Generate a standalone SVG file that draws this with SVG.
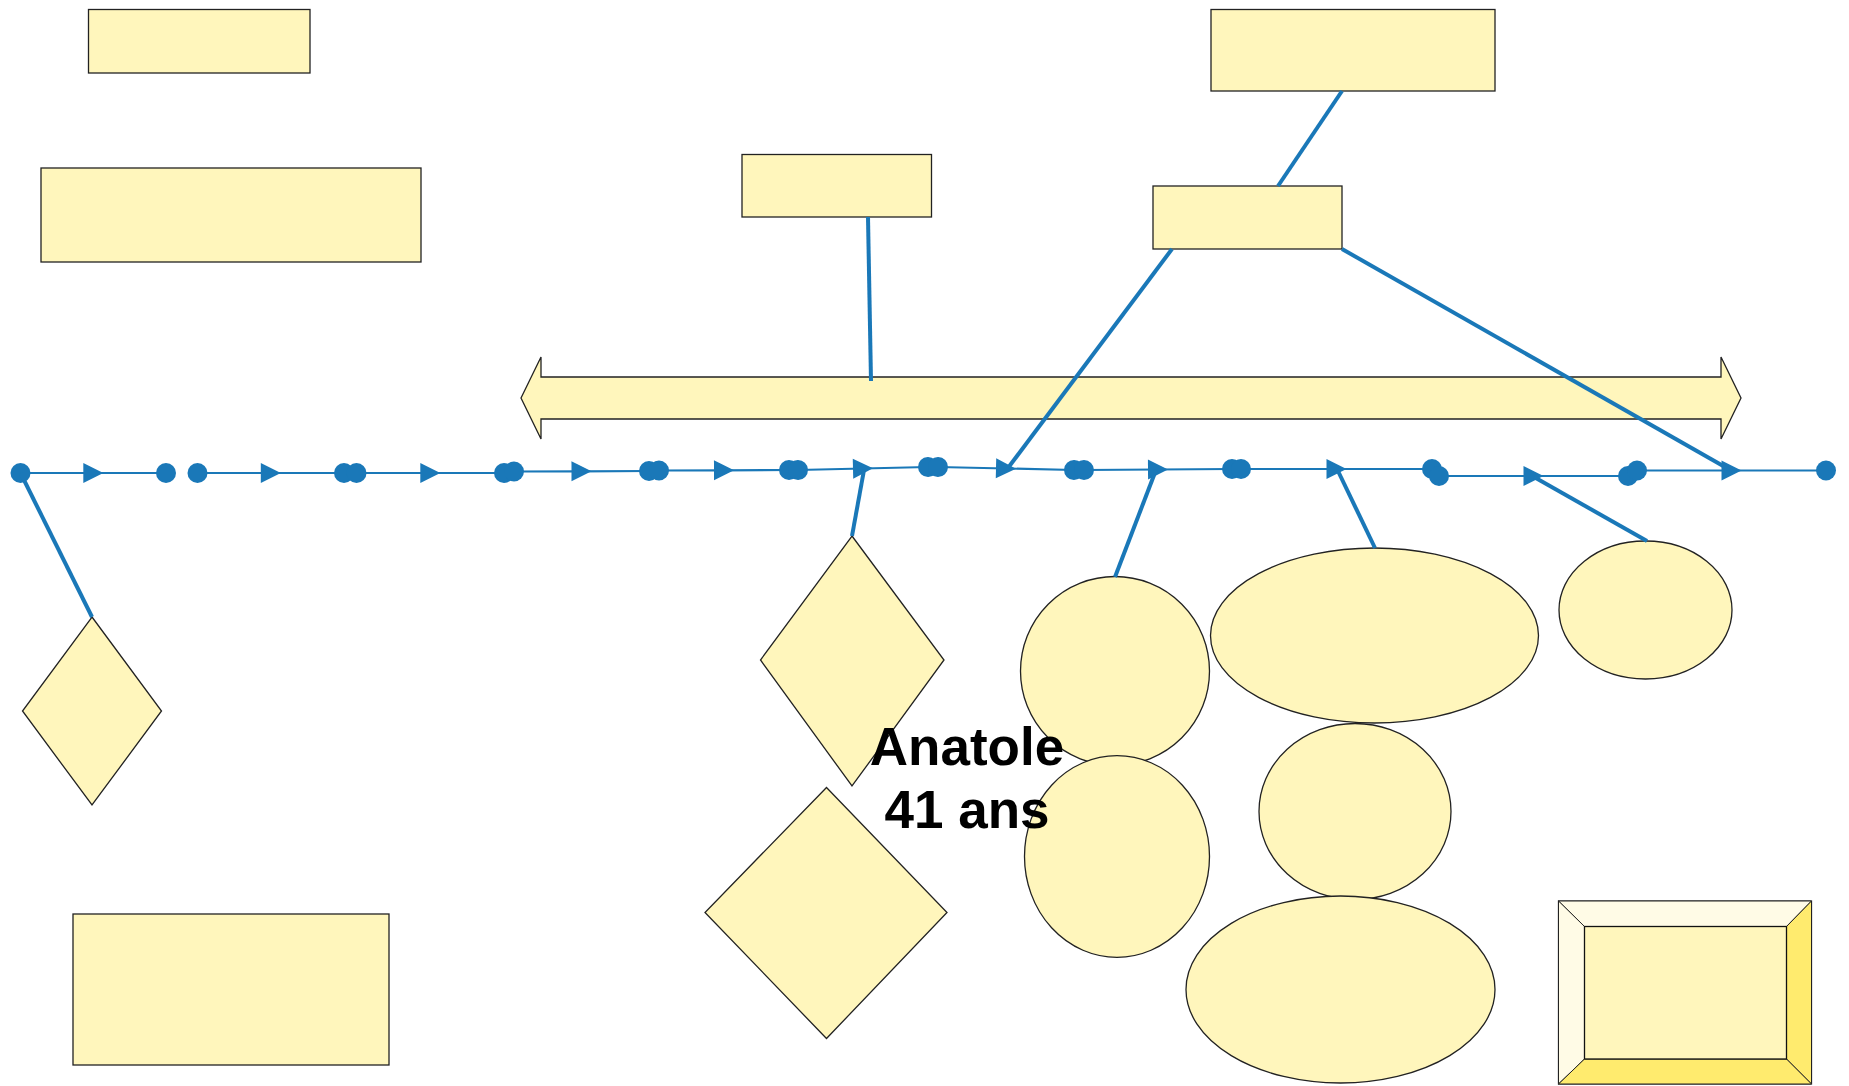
<svg xmlns="http://www.w3.org/2000/svg" width="1849" height="1086" viewBox="0 0 1849 1086">
<style>
.s{fill:#FFF6BC;stroke:#222;stroke-width:1.3}
.tl{fill:none;stroke:#1a78b8;stroke-width:2.2;marker-start:url(#dot);marker-mid:url(#tri);marker-end:url(#dot)}
.c{stroke:#1a78b8;stroke-width:4;fill:none}
.t{font-family:"Liberation Sans",Arial,sans-serif;font-weight:bold;font-size:53px;fill:#000;text-anchor:middle}
</style>
<defs>
<marker id="dot" markerUnits="userSpaceOnUse" markerWidth="22" markerHeight="22" refX="11" refY="11" orient="auto" overflow="visible"><circle cx="11" cy="11" r="10" fill="#1a78b8"/></marker>
<marker id="tri" markerUnits="userSpaceOnUse" markerWidth="22" markerHeight="22" refX="10" refY="10" orient="auto" overflow="visible"><path d="M0,0 L20,10 L0,20 Z" fill="#1a78b8"/></marker>
</defs>
<rect width="1849" height="1086" fill="#fff"/>
<g id="box1"><rect class="s" x="88.5" y="9.5" width="221.5" height="63.5"/></g>
<g id="box2"><rect class="s" x="41" y="168" width="380" height="94"/></g>
<g id="box3"><rect class="s" x="742" y="154.5" width="189.5" height="62.5"/></g>
<g id="box4"><rect class="s" x="1211" y="9.5" width="284" height="81.5"/></g>
<g id="box5"><rect class="s" x="1153" y="186" width="189" height="63"/></g>
<g id="box6"><rect class="s" x="73" y="914" width="316" height="151"/></g>
<g id="dblarrow"><path class="s" d="M521,398 L541,357 L541,377 L1721,377 L1721,357 L1741,398 L1721,439 L1721,419 L541,419 L541,439 Z"/></g>
<g id="diamond1"><path class="s" d="M92,617 L161.5,711 L92,805 L22.5,711 Z"/></g>
<g id="diamond2"><path class="s" d="M852,536 L944,660 L852,786 L760.5,660 Z"/></g>
<g id="diamond3"><path class="s" d="M826.5,787.5 L947,912.5 L826.5,1038.5 L705,912.5 Z"/></g>
<g id="circle1"><ellipse class="s" cx="1115" cy="671" rx="94.5" ry="94.5"/></g>
<g id="circle2"><ellipse class="s" cx="1117" cy="856.5" rx="92.5" ry="100.8"/></g>
<g id="ellipse1"><ellipse class="s" cx="1374.5" cy="635.5" rx="164" ry="87.5"/></g>
<g id="circle3"><ellipse class="s" cx="1355" cy="811.5" rx="96" ry="88"/></g>
<g id="ellipse2"><ellipse class="s" cx="1340.5" cy="989.5" rx="154.5" ry="93.5"/></g>
<g id="ellipse3"><ellipse class="s" cx="1645.5" cy="610" rx="86.5" ry="69"/></g>
<g id="bevel">
<rect x="1558.5" y="901" width="253" height="183" fill="#FFF6BC" stroke="#444" stroke-width="1.3"/>
<path d="M1558.5,901 L1811.5,901 L1786.5,926.5 L1584.5,926.5 Z" fill="#FFFBE6" stroke="#222" stroke-width="1"/>
<path d="M1558.5,901 L1584.5,926.5 L1584.5,1059 L1558.5,1084 Z" fill="#FFFBE6" stroke="#222" stroke-width="1"/>
<path d="M1811.5,901 L1811.5,1084 L1786.5,1059 L1786.5,926.5 Z" fill="#FFEB6E" stroke="#222" stroke-width="1"/>
<path d="M1558.5,1084 L1584.5,1059 L1786.5,1059 L1811.5,1084 Z" fill="#FFEB6E" stroke="#222" stroke-width="1"/>
<rect x="1584.5" y="926.5" width="202" height="132.5" fill="#FFF6BC" stroke="#111" stroke-width="1.3"/>
</g>
<g id="connectors">
<polyline class="tl" points="20.5,473 93.3,473 166,473"/>
<polyline class="tl" points="197.5,473 270.8,473 344,473"/>
<polyline class="tl" points="356.5,473 430.3,473 504,473"/>
<polyline class="tl" points="514,471.5 581.5,471.3 649,471"/>
<polyline class="tl" points="659,470.5 724,470.3 789,470"/>
<polyline class="tl" points="798,470 863,468.5 928,467"/>
<polyline class="tl" points="938,467 1006,468.5 1074,470"/>
<polyline class="tl" points="1084,470 1158,469.5 1232,469"/>
<polyline class="tl" points="1241,469 1336.5,469 1432,469"/>
<polyline class="tl" points="1439,476 1533.5,476 1628,476"/>
<polyline class="tl" points="1637,470.5 1731.5,470.5 1826,470.5"/>
<line class="c" x1="1342" y1="91" x2="1278" y2="186"/>
<line class="c" x1="1172" y1="249" x2="1008" y2="468"/>
<line class="c" x1="1342" y1="249" x2="1732" y2="471"/>
<line class="c" x1="868" y1="217" x2="871" y2="381"/>
<line class="c" x1="20.5" y1="473" x2="92" y2="617"/>
<line class="c" x1="852" y1="536" x2="864" y2="470"/>
<line class="c" x1="1115" y1="577" x2="1156" y2="470"/>
<line class="c" x1="1375" y1="548" x2="1338" y2="471"/>
<line class="c" x1="1647" y1="541" x2="1534" y2="477"/>
</g>
<g id="label"><text class="t" x="967" y="765">Anatole</text><text class="t" x="967" y="828">41 ans</text></g>
</svg>
